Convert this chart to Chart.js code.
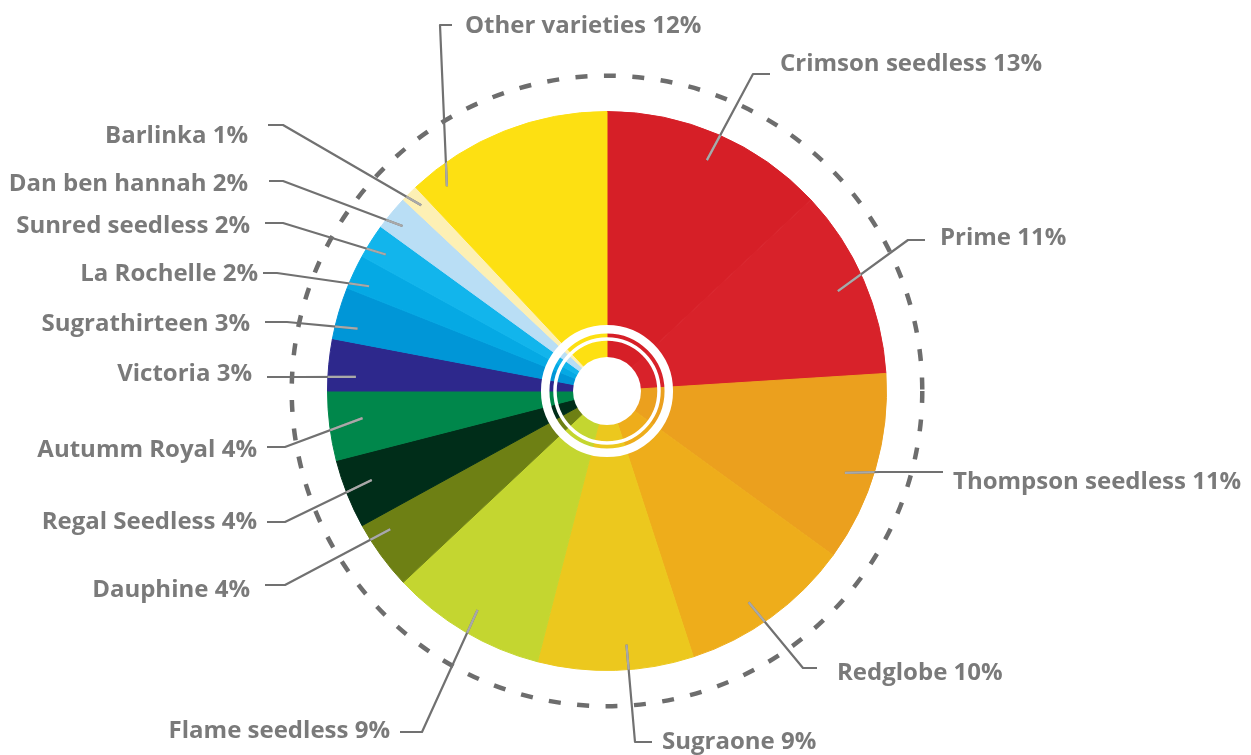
<!DOCTYPE html>
<html>
<head>
<meta charset="utf-8">
<title>Grape varieties</title>
<script src="https://cdn.jsdelivr.net/npm/chart.js@4.4.1/dist/chart.umd.min.js"></script>
<style>
  html, body { margin: 0; padding: 0; background: #ffffff; }
  #wrap { width: 1251px; height: 755px; position: relative; }
  canvas { display: block; }
</style>
</head>
<body>
<div id="wrap"><canvas id="c" width="1251" height="755"></canvas></div>
<script>
// Varieties, clockwise from twelve o'clock
const varieties = [
  'Crimson seedless', 'Prime', 'Thompson seedless', 'Redglobe', 'Sugraone',
  'Flame seedless', 'Dauphine', 'Regal Seedless', 'Autumm Royal', 'Victoria',
  'Sugrathirteen', 'La Rochelle', 'Sunred seedless', 'Dan ben hannah',
  'Barlinka', 'Other varieties'
];
// Share of each variety, in percent
const shares = [13, 11, 11, 10, 9, 9, 4, 4, 4, 3, 3, 2, 2, 2, 1, 12];
// Slice fill colours
const sliceColors = [
  '#d61f27', '#d8222a', '#eba01e', '#eead1b', '#ecc81e',
  '#c4d630', '#6e8014', '#002d19', '#00874b', '#2d288c',
  '#0096d7', '#05a9e4', '#12b5ec', '#b9def5',
  '#fdf0b4', '#fde012'
];

// Callout placement, offsets from the pie centre in px.
// t: position along the slice, rf: start radius as a fraction of the pie radius,
// elbow: bend of the leader, stubX: end of the short horizontal piece,
// tx/ty: text anchor, align: which side the text hangs from.
const callouts = [
  { t: 0.50, rf: 0.90, elbow: [146, -317], stubX: 163, tx: 173, ty: -327, align: 'left' },
  { t: 0.50, rf: 0.90, elbow: [301, -151], stubX: 318, tx: 333, ty: -153, align: 'left' },
  { t: 0.57, rf: 0.90, elbow: [273, 81], stubX: 336, tx: 346, ty: 91, align: 'left' },
  { t: 0.56, rf: 0.91, elbow: [196, 277], stubX: 210, tx: 230, ty: 282, align: 'left' },
  { t: 0.42, rf: 0.91, elbow: [28, 351], stubX: 45, tx: 55, ty: 351, align: 'left' },
  { t: 0.50, rf: 0.91, elbow: [-185, 341], stubX: -207, tx: -217, ty: 340, align: 'right' },
  { t: 0.74, rf: 0.92, elbow: [-322, 194], stubX: -342, tx: -357, ty: 199, align: 'right' },
  { t: 0.56, rf: 0.90, elbow: [-322, 131], stubX: -340, tx: -350, ty: 131, align: 'right' },
  { t: 0.56, rf: 0.88, elbow: [-322, 56], stubX: -340, tx: -350, ty: 59, align: 'right' },
  { t: 0.30, rf: 0.90, elbow: [-307, -14], stubX: -340, tx: -355, ty: -17, align: 'right' },
  { t: 0.30, rf: 0.92, elbow: [-320, -69], stubX: -342, tx: -357, ty: -67, align: 'right' },
  { t: 0.30, rf: 0.93, elbow: [-330, -118], stubX: -344, tx: -349, ty: -117, align: 'right' },
  { t: 0.40, rf: 0.93, elbow: [-324, -168], stubX: -342, tx: -357, ty: -165, align: 'right' },
  { t: 0.40, rf: 0.94, elbow: [-324, -210], stubX: -338, tx: -359, ty: -207, align: 'right' },
  { t: 0.50, rf: 0.94, elbow: [-324, -266], stubX: -339, tx: -359, ty: -255, align: 'right' },
  { t: 0.12, rf: 0.93, elbow: [-167, -366], stubX: -155, tx: -142, ty: -365, align: 'left' }
];

const TEXT_COLOR = '#7a7a7a';
const LINE_OUTSIDE = '#717171';
const LINE_INSIDE = '#a9a9a9';
const LABEL_FONT = 'bold 24px "Open Sans", "DejaVu Sans", sans-serif';

// Dashed orbit, white hub rings and the callouts
const decorations = {
  id: 'decorations',
  afterDatasetsDraw(chart) {
    const ctx = chart.ctx;
    const meta = chart.getDatasetMeta(0);
    const first = meta.data[0];
    const cx = first.x, cy = first.y, R = first.outerRadius;

    // white hub
    ctx.save();
    ctx.fillStyle = '#ffffff';
    ctx.beginPath();
    ctx.arc(cx, cy, 34, 0, Math.PI * 2);
    ctx.fill();
    ctx.strokeStyle = '#ffffff';
    ctx.lineWidth = 3.5;
    ctx.beginPath();
    ctx.arc(cx, cy, 52, 0, Math.PI * 2);
    ctx.stroke();
    ctx.lineWidth = 8.5;
    ctx.beginPath();
    ctx.arc(cx, cy, 61.8, 0, Math.PI * 2);
    ctx.stroke();
    ctx.restore();

    // dashed orbit
    ctx.save();
    ctx.strokeStyle = '#6d6d6d';
    ctx.lineWidth = 4.5;
    ctx.setLineDash([12, 16.5]);
    ctx.beginPath();
    ctx.arc(cx, cy, R * 1.128, 0, Math.PI * 2);
    ctx.stroke();
    ctx.restore();

    // callouts
    meta.data.forEach((arc, i) => {
      const c = callouts[i];
      const a = arc.startAngle + c.t * (arc.endAngle - arc.startAngle);
      const sx = cx + Math.cos(a) * R * c.rf;
      const sy = cy + Math.sin(a) * R * c.rf;
      const ex = cx + c.elbow[0], ey = cy + c.elbow[1];
      const fx = cx + c.stubX;

      const path = () => {
        ctx.beginPath();
        ctx.moveTo(sx, sy);
        ctx.lineTo(ex, ey);
        ctx.lineTo(fx, ey);
      };

      ctx.save();
      ctx.lineWidth = 2.2;
      ctx.lineJoin = 'round';
      ctx.strokeStyle = LINE_OUTSIDE;
      path();
      ctx.stroke();
      // the part lying over the slices is drawn lighter
      ctx.beginPath();
      ctx.arc(cx, cy, R, 0, Math.PI * 2);
      ctx.clip();
      ctx.strokeStyle = LINE_INSIDE;
      path();
      ctx.stroke();
      ctx.restore();

      ctx.save();
      ctx.font = LABEL_FONT;
      ctx.fillStyle = TEXT_COLOR;
      ctx.textBaseline = 'middle';
      ctx.textAlign = c.align;
      ctx.fillText(varieties[i] + ' ' + shares[i] + '%', cx + c.tx, cy + c.ty);
      ctx.restore();
    });
  }
};

new Chart(document.getElementById('c'), {
  type: 'pie',
  data: {
    labels: varieties,
    datasets: [{
      data: shares,
      backgroundColor: sliceColors,
      // same-colour hairline border closes the anti-aliasing seams between slices
      borderColor: sliceColors,
      borderWidth: 1,
      hoverOffset: 0
    }]
  },
  options: {
    responsive: false,
    devicePixelRatio: 1,
    animation: false,
    layout: { padding: { left: 327, right: 364, top: 111, bottom: 84 } },
    plugins: {
      legend: { display: false },
      tooltip: { enabled: false }
    },
    events: []
  },
  plugins: [decorations]
});
</script>
</body>
</html>
